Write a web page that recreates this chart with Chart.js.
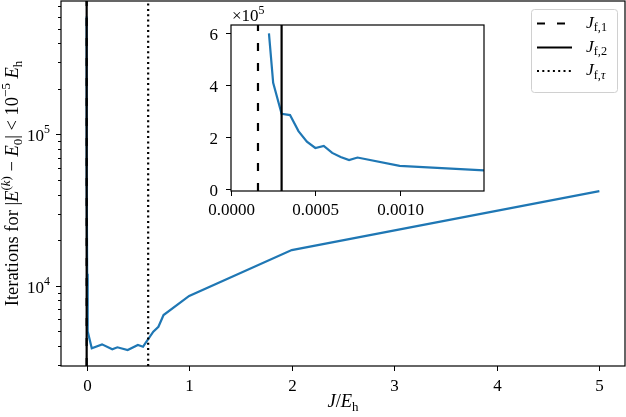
<!DOCTYPE html>
<html>
<head>
<meta charset="utf-8">
<script src="https://cdn.jsdelivr.net/npm/chart.js@4.4.0/dist/chart.umd.min.js"></script>
<style>
html, body { margin: 0; padding: 0; background: #fff; }
#wrap { position: relative; width: 626px; height: 417px; }
#main { position: absolute; left: 0; top: 0; }
#inset { position: absolute; left: 190px; top: 0; }
</style>
</head>
<body>
<div id="wrap">
  <canvas id="main" width="626" height="417"></canvas>
  <canvas id="inset" width="310" height="230"></canvas>
</div>
<script>
// coupling J (in E_h) vs iterations needed
const jValues = [0.000225, 0.00025, 0.0003, 0.00035, 0.0004, 0.00045, 0.0005, 0.00055, 0.0006, 0.00065,
  0.0007, 0.00075, 0.001, 0.0015, 0.002, 0.005, 0.01, 0.05, 0.15, 0.25, 0.3, 0.4, 0.5, 0.55, 0.65,
  0.7, 0.75, 1, 2, 5];
const iterations = [600000, 409000, 289000, 284000, 222000, 181000, 157000, 165000, 138000, 122000,
  110000, 120000, 87600, 70500, 50000, 12000, 5000, 3860, 4100, 3800, 3920, 3760, 4060, 3955, 4970,
  5360, 6400, 8570, 17200, 42200];

// threshold lines
const jf1 = 0.00016;
const jf2 = 0.0003;
const jfTau = 0.6;

// ticks
const xTicksMain = [0, 1, 2, 3, 4, 5];
const yDecadesMain = [1000, 10000, 100000];
const yLabelledMain = [10000, 100000];
const xTicksInset = [0, 0.0005, 0.001];
const xTickLabelsInset = ['0.0000', '0.0005', '0.0010'];
const yTicksInset = [0, 200000, 400000, 600000];
const yTickLabelsInset = ['0', '2', '4', '6'];

const mainX = { min: -0.25, max: 5.25 };
const mainY = { min: 2950, max: 760000 };
const insetX = { min: 0, max: 0.0015 };
const insetY = { min: -9300, max: 632000 };

const FONT = '"Liberation Serif", "DejaVu Serif", serif';
const BLUE = '#1f77b4';
const FS = 17;
const TITLE_FS = 18.5;

function drawRich(ctx, runs, x, y, size, align) {
  const parts = runs.map(([t, s]) => {
    const small = s.includes('p') || s.includes('b');
    const sz = small ? size * 0.7 : size;
    const font = (s.includes('i') ? 'italic ' : '') + sz + 'px ' + FONT;
    ctx.font = font;
    const dy = s.includes('p') ? -size * 0.42 : s.includes('b') ? size * 0.22 : 0;
    return { t, font, dy, w: ctx.measureText(t).width };
  });
  const total = parts.reduce((a, p) => a + p.w, 0);
  let cx = align === 'center' ? x - total / 2 : align === 'right' ? x - total : x;
  ctx.textAlign = 'left';
  ctx.textBaseline = 'alphabetic';
  for (const p of parts) {
    ctx.font = p.font;
    ctx.fillText(p.t, cx, y + p.dy);
    cx += p.w;
  }
}

function vline(x, lim, dash) {
  return {
    data: [{ x: x, y: lim.min }, { x: x, y: lim.max }],
    borderColor: '#000', borderWidth: 2.2, borderDash: dash,
    pointRadius: 0, order: 0, clip: 0
  };
}

function curve() {
  return {
    data: jValues.map((j, i) => ({ x: j, y: iterations[i] })),
    borderColor: BLUE, borderWidth: 2.2, pointRadius: 0, tension: 0,
    order: 1, clip: 0
  };
}

const hidden = { ticks: { display: false }, grid: { display: false }, border: { display: false } };

const mainPlugin = {
  id: 'mainDeco',
  beforeDraw(chart) {
    const ctx = chart.ctx;
    ctx.save();
    ctx.fillStyle = '#fff';
    ctx.fillRect(0, 0, chart.width, chart.height);
    ctx.restore();
  },
  afterDraw(chart) {
    const ctx = chart.ctx;
    const a = chart.chartArea;
    const xs = chart.scales.x, ys = chart.scales.y;
    ctx.save();
    ctx.strokeStyle = '#000';
    ctx.fillStyle = '#000';
    ctx.lineWidth = 1.2;
    ctx.strokeRect(a.left, a.top, a.right - a.left, a.bottom - a.top);

    ctx.lineWidth = 1;
    xs.ticks.forEach(t => {
      const px = Math.round(xs.getPixelForValue(t.value)) + 0.5;
      ctx.beginPath(); ctx.moveTo(px, a.bottom); ctx.lineTo(px, a.bottom + 5); ctx.stroke();
      drawRich(ctx, [[String(t.value), '']], px, a.bottom + 25, FS, 'center');
    });
    ys.ticks.forEach(t => {
      const py = Math.round(ys.getPixelForValue(t.value)) + 0.5;
      const major = t.major;
      ctx.beginPath(); ctx.moveTo(a.left, py); ctx.lineTo(a.left - (major ? 5 : 3), py); ctx.stroke();
      if (yLabelledMain.includes(t.value)) {
        const e = Math.round(Math.log10(t.value));
        drawRich(ctx, [['10', ''], [String(e), 'p']], a.left - 11, py + 6, FS, 'right');
      }
    });

    // axis titles
    drawRich(ctx, [['J', 'i'], ['/', ''], ['E', 'i'], ['h', 'b']], (a.left + a.right) / 2, 407, TITLE_FS, 'center');
    ctx.save();
    ctx.translate(17.5, (a.top + a.bottom) / 2);
    ctx.rotate(-Math.PI / 2);
    drawRich(ctx, [['Iterations for |', ''], ['E', 'i'], ['(', 'p'], ['k', 'pi'], [')', 'p'],
      [' − ', ''], ['E', 'i'], ['0', 'b'], ['| < 10', ''], ['−5', 'p'], [' ', ''], ['E', 'i'], ['h', 'b']],
      0, 0, TITLE_FS, 'center');
    ctx.restore();

    // legend
    const lx = 531, ly = 9, lw = 86, lh = 83;
    ctx.beginPath();
    ctx.roundRect(lx + 0.5, ly + 0.5, lw, lh, 3);
    ctx.fillStyle = 'rgba(255,255,255,0.8)';
    ctx.fill();
    ctx.strokeStyle = '#d0d0d0';
    ctx.lineWidth = 1;
    ctx.stroke();
    const items = [
      { dash: [8, 12], y: 23.5, runs: [['J', 'i'], ['f,1', 'b']] },
      { dash: [], y: 47.5, runs: [['J', 'i'], ['f,2', 'b']] },
      { dash: [2, 3.3], y: 71, runs: [['J', 'i'], ['f,', 'b'], ['τ', 'bi']] }
    ];
    ctx.strokeStyle = '#000';
    ctx.fillStyle = '#000';
    items.forEach(it => {
      ctx.setLineDash(it.dash);
      ctx.lineWidth = 2.2;
      ctx.beginPath(); ctx.moveTo(537, it.y); ctx.lineTo(572, it.y); ctx.stroke();
      ctx.setLineDash([]);
      drawRich(ctx, it.runs, 586, it.y + 4, 17.5, 'left');
    });
    ctx.restore();
  }
};

const insetPlugin = {
  id: 'insetDeco',
  beforeDatasetsDraw(chart) {
    const a = chart.chartArea;
    const ctx = chart.ctx;
    ctx.save();
    ctx.fillStyle = '#fff';
    ctx.fillRect(a.left, a.top, a.right - a.left, a.bottom - a.top);
    ctx.restore();
  },
  afterDraw(chart) {
    const ctx = chart.ctx;
    const a = chart.chartArea;
    const xs = chart.scales.x, ys = chart.scales.y;
    ctx.save();
    ctx.strokeStyle = '#000';
    ctx.fillStyle = '#000';
    ctx.lineWidth = 1.2;
    ctx.strokeRect(a.left, a.top, a.right - a.left, a.bottom - a.top);
    ctx.lineWidth = 1;
    xs.ticks.forEach((t, i) => {
      const px = Math.round(xs.getPixelForValue(t.value)) + 0.5;
      ctx.beginPath(); ctx.moveTo(px, a.bottom); ctx.lineTo(px, a.bottom + 5); ctx.stroke();
      drawRich(ctx, [[xTickLabelsInset[i], '']], px, a.bottom + 24, FS, 'center');
    });
    ys.ticks.forEach((t, i) => {
      const py = Math.round(ys.getPixelForValue(t.value)) + 0.5;
      ctx.beginPath(); ctx.moveTo(a.left, py); ctx.lineTo(a.left - 5, py); ctx.stroke();
      drawRich(ctx, [[yTickLabelsInset[i], '']], a.left - 13, py + 6, FS, 'right');
    });
    drawRich(ctx, [['×10', ''], ['5', 'p']], a.left + 1, 21, FS, 'left');
    ctx.restore();
  }
};

new Chart(document.getElementById('main'), {
  type: 'line',
  data: {
    datasets: [curve(), vline(jf1, mainY, [8, 12]), vline(jf2, mainY, []), vline(jfTau, mainY, [2, 3.3])]
  },
  options: {
    responsive: false,
    animation: false,
    layout: { padding: { top: 1, right: 1, left: 0, bottom: 0 } },
    plugins: { legend: { display: false }, tooltip: { enabled: false } },
    scales: {
      x: Object.assign({}, hidden, {
        type: 'linear', min: mainX.min, max: mainX.max,
        afterBuildTicks: s => { s.ticks = xTicksMain.map(v => ({ value: v })); },
        afterFit: s => { s.height = 51; }
      }),
      y: Object.assign({}, hidden, {
        type: 'logarithmic', min: mainY.min, max: mainY.max,
        afterBuildTicks: s => {
          const ticks = [];
          yDecadesMain.forEach(d => {
            for (let m = 1; m <= 9; m++) {
              const v = d * m;
              if (v >= mainY.min && v <= mainY.max) ticks.push({ value: v, major: m === 1 });
            }
          });
          s.ticks = ticks;
        },
        afterFit: s => { s.width = 61; }
      })
    }
  },
  plugins: [mainPlugin]
});

new Chart(document.getElementById('inset'), {
  type: 'line',
  data: {
    datasets: [curve(), vline(jf1, insetY, [8, 12]), vline(jf2, insetY, [])]
  },
  options: {
    responsive: false,
    animation: false,
    layout: { padding: { top: 25, right: 16, left: 0, bottom: 0 } },
    plugins: { legend: { display: false }, tooltip: { enabled: false } },
    scales: {
      x: Object.assign({}, hidden, {
        type: 'linear', min: insetX.min, max: insetX.max,
        afterBuildTicks: s => { s.ticks = xTicksInset.map(v => ({ value: v })); },
        afterFit: s => { s.height = 39; }
      }),
      y: Object.assign({}, hidden, {
        type: 'linear', min: insetY.min, max: insetY.max,
        afterBuildTicks: s => { s.ticks = yTicksInset.map(v => ({ value: v })); },
        afterFit: s => { s.width = 41; }
      })
    }
  },
  plugins: [insetPlugin]
});
</script>
</body>
</html>
